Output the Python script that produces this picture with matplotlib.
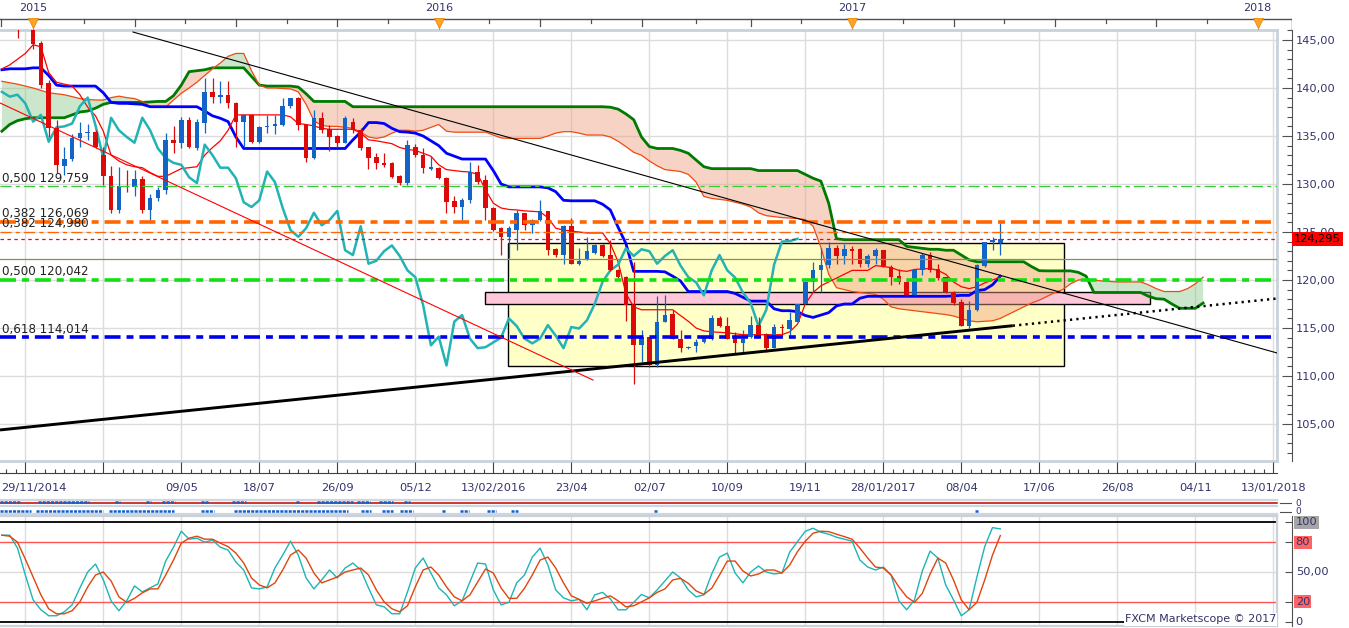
import datetime as dt
import numpy as np
import matplotlib
matplotlib.use("Agg")
import matplotlib.pyplot as plt
from matplotlib.patches import Rectangle
from matplotlib.transforms import blended_transform_factory

plt.rcParams['font.family'] = ['DejaVu Sans']
plt.rcParams['lines.scale_dashes'] = False

# ------------------------------------------------------------------ data
BASE_DATE = dt.date(2014, 11, 29)      # weekly bar index 0
FIRST_BAR = 2                          # first candle index in the lists below

opens = [147.5, 146.8, 147.2, 144.7, 140.5, 135.8, 131.9, 132.6,            # 2-9
         134.8, 135.3, 135.4, 133.0, 130.8, 127.3, 129.8, 129.7, 130.5, 127.3,  # 10-19
         128.5, 129.4, 134.6, 134.3, 136.7, 133.8, 136.4, 139.6, 139.1, 139.3,  # 20-29
         138.4, 136.5, 137.2, 134.4, 135.9, 136.0, 136.1, 138.1, 139.0, 136.1,  # 30-39
         132.7, 136.9, 135.7, 135.0, 134.3, 136.5, 135.6, 133.9, 132.8, 132.2,  # 40-49
         132.2, 130.8, 130.1, 133.9, 133.0, 131.6, 131.7, 130.6, 128.2, 127.6,  # 50-59
         128.3, 131.3, 130.4, 127.5, 125.4, 124.5, 125.2, 127.0, 125.7, 126.2,  # 60-69
         127.2, 123.2, 122.6, 125.6, 121.7, 122.2, 122.85, 123.6, 122.6, 121.0, # 70-79
         120.3, 117.4, 113.2, 114.1, 111.1, 115.66, 116.45, 113.9, 112.9, 113.1,# 80-89
         113.5, 113.9, 116.0, 115.2, 114.1, 113.4, 114.1, 115.3, 114.4, 112.9,  # 90-99
         115.05, 114.9, 115.66, 117.5, 119.8, 121.0, 121.6, 123.3, 122.5, 123.2,# 100-109
         123.2, 121.7, 122.5, 123.1, 121.4, 120.45, 119.75, 118.4, 121.0, 122.6,# 110-119
         121.1, 120.3, 118.7, 117.75, 115.2, 116.9, 121.5, 124.0, 123.9]        # 120-128
highs = [148.5, 147.6, 147.5, 144.9, 140.8, 136.7, 133.9, 135.2,
         136.5, 136.3, 135.6, 133.9, 131.9, 131.8, 131.5, 131.5, 130.8, 129.0,
         129.7, 135.3, 136.0, 137.0, 137.0, 136.8, 141.0, 141.0, 140.7, 140.7,
         138.5, 137.3, 137.3, 136.0, 137.2, 137.2, 139.0, 139.0, 139.1, 136.3,
         137.7, 137.5, 136.1, 135.1, 137.1, 136.9, 135.8, 133.9, 133.2, 133.2,
         132.3, 130.9, 134.6, 134.2, 133.7, 132.9, 131.8, 130.7, 128.7, 128.5,
         132.3, 132.0, 130.9, 127.6, 125.5, 125.6, 127.3, 127.0, 126.4, 128.3,
         127.2, 123.3, 125.7, 126.5, 123.3, 124.5, 123.7, 123.7, 124.2, 121.1,
         120.4, 121.9, 114.8, 114.1, 118.3, 118.4, 116.9, 114.8, 113.1, 113.9,
         114.1, 116.35, 116.2, 116.1, 114.6, 114.8, 116.2, 116.1, 114.5, 115.4,
         115.4, 116.7, 117.5, 119.9, 121.9, 123.3, 124.0, 123.65, 123.8, 123.5,
         123.3, 122.7, 123.3, 123.1, 121.6, 121.1, 120.2, 121.1, 122.8, 122.9,
         121.7, 120.3, 118.9, 118.0, 117.85, 121.7, 124.0, 124.5, 125.9]
lows = [145.2, 146.3, 144.1, 140.0, 134.9, 131.1, 130.9, 132.4,
        133.9, 134.6, 133.7, 129.9, 127.0, 127.0, 129.2, 128.8, 127.0, 126.2,
        128.2, 129.0, 133.2, 133.8, 133.7, 133.5, 135.3, 138.4, 138.4, 137.9,
        133.9, 133.9, 134.3, 134.3, 135.3, 135.2, 136.0, 137.9, 135.6, 132.3,
        132.6, 135.3, 133.4, 133.9, 134.3, 135.3, 133.5, 131.6, 131.6, 131.8,
        130.6, 129.9, 129.9, 132.8, 131.1, 131.5, 130.5, 127.0, 127.0, 126.3,
        128.0, 130.0, 126.3, 125.1, 122.6, 122.3, 123.1, 125.2, 124.9, 126.1,
        122.6, 122.4, 121.7, 121.7, 121.6, 122.1, 122.7, 122.4, 120.9, 120.2,
        115.7, 109.2, 111.5, 110.9, 110.9, 115.6, 113.9, 112.5, 112.8, 112.5,
        113.4, 113.75, 115.1, 113.9, 112.4, 112.5, 114.0, 114.1, 112.5, 112.9,
        114.2, 114.2, 115.6, 117.5, 118.7, 118.8, 121.2, 121.7, 121.7, 121.7,
        121.4, 121.4, 121.7, 121.4, 119.5, 119.6, 118.4, 118.4, 120.5, 120.8,
        120.0, 118.6, 117.4, 115.2, 115.0, 116.8, 121.4, 123.1, 122.6]
closes = [146.8, 147.2, 144.6, 140.3, 135.8, 132.0, 132.6, 134.8,
          135.3, 135.4, 133.9, 130.8, 127.3, 129.8, 129.7, 130.5, 127.3, 128.5,
          129.4, 134.6, 134.3, 136.7, 133.9, 136.5, 139.6, 139.1, 139.3, 138.4,
          136.5, 137.2, 134.4, 135.9, 136.0, 136.3, 138.1, 139.0, 136.1, 132.7,
          136.9, 135.6, 134.9, 134.3, 136.9, 135.6, 133.7, 132.7, 132.2, 132.0,
          130.7, 130.1, 134.1, 133.0, 131.7, 131.7, 130.6, 128.1, 127.6, 128.3,
          131.3, 130.2, 127.5, 125.2, 124.5, 125.4, 127.0, 125.7, 126.25, 127.2,
          123.1, 122.6, 125.6, 121.7, 122.0, 123.0, 123.6, 122.5, 121.0, 120.3,
          117.4, 113.2, 114.1, 111.1, 115.66, 116.35, 113.9, 112.9, 113.0, 113.5,
          114.0, 116.0, 115.2, 113.9, 113.4, 113.9, 115.3, 114.2, 112.9, 115.1,
          114.95, 115.8, 117.5, 119.8, 121.0, 121.6, 123.3, 122.5, 123.2, 123.0,
          121.7, 122.5, 123.1, 121.5, 120.3, 119.75, 118.4, 121.0, 122.6, 121.0,
          120.25, 118.7, 117.6, 115.2, 116.9, 121.6, 124.0, 124.05, 124.295]

# Ichimoku lines, one value per weekly bar starting at bar 0
tenkan = [142.0, 142.4, 143.0, 143.6, 144.5, 144.3, 141.6, 140.6, 140.4, 140.2,
          139.3, 138.0, 137.1, 135.5, 133.0, 132.4, 132.0, 131.8, 131.7, 131.2,
          130.8, 130.8, 131.2, 131.6, 131.7, 131.8, 133.0, 133.8, 134.5, 135.6,
          137.2, 137.2, 137.2, 137.2, 137.2, 137.2, 137.2, 137.0, 136.3, 136.2,
          136.05, 135.8, 135.7, 135.7, 135.7, 135.7, 135.3, 134.6, 134.5, 134.35,
          134.2, 133.8, 133.6, 133.5, 133.2, 132.9, 132.0, 131.5, 131.4, 131.3,
          131.25, 131.0, 129.4, 128.0, 127.5, 127.35, 127.3, 127.2, 127.15, 127.1,
          126.5, 125.4, 125.2, 125.1, 125.0, 124.9, 124.9, 124.9, 123.8, 121.9,
          118.6, 117.2, 116.9, 116.9, 116.9, 116.9, 116.9, 116.3, 115.7, 115.0,
          114.7, 114.6, 114.55, 114.5, 114.4, 114.3, 114.3, 114.3, 114.3, 114.3,
          114.3, 114.6, 115.4, 117.5, 118.7, 119.4, 119.8, 120.2, 120.6, 121.0,
          121.0, 121.0, 121.5, 121.4, 121.3, 121.0, 120.9, 121.1, 121.15, 121.2,
          121.0, 120.6, 119.8, 119.3, 119.1, 119.3, 119.7, 120.0, 120.3]
kijun = [141.9, 142.0, 142.0, 142.0, 142.1, 142.1, 141.3, 140.3, 140.2, 140.2,
         140.2, 140.2, 140.2, 139.5, 138.5, 138.4, 138.4, 138.35, 138.3, 138.05,
         138.05, 138.05, 138.05, 138.05, 138.05, 138.05, 137.6, 137.1, 136.85, 136.5,
         134.9, 133.7, 133.7, 133.7, 133.7, 133.7, 133.7, 133.7, 133.7, 133.7,
         133.7, 133.7, 133.7, 133.7, 133.7, 134.6, 135.4, 136.4, 136.4, 136.3,
         135.8, 135.45, 135.4, 135.3, 135.0, 134.5, 134.0, 133.2, 132.9, 132.6,
         132.6, 132.6, 132.6, 131.4, 130.0, 129.7, 129.7, 129.7, 129.7, 129.7,
         129.6, 129.2, 128.3, 128.25, 128.25, 128.25, 128.25, 127.9, 127.3, 125.5,
         123.8, 120.9, 120.9, 120.9, 120.9, 120.85, 120.4, 119.9, 118.8, 118.8,
         118.8, 118.8, 118.8, 118.8, 118.6, 118.2, 117.8, 117.8, 117.8, 117.0,
         116.8, 116.8, 116.7, 116.3, 116.1, 116.35, 116.6, 117.3, 117.5, 117.5,
         118.1, 118.3, 118.3, 118.3, 118.3, 118.3, 118.3, 118.3, 118.3, 118.3,
         118.3, 118.3, 118.35, 118.4, 118.4, 118.9, 119.0, 119.5, 120.4]
senkou_a = [140.7, 140.55, 140.4, 140.2, 140.0, 139.75, 139.5, 139.4, 139.3, 139.1,
            138.9, 138.8, 138.75, 138.75, 139.0, 139.15, 139.0, 138.9, 138.6, 138.05,
            138.0, 138.0, 138.75, 139.45, 140.0, 140.6, 141.3, 142.0, 142.6, 143.3,
            143.6, 143.6, 141.8, 140.3, 140.0, 140.0, 139.95, 139.9, 139.6, 138.3,
            136.6, 136.1, 136.0, 136.0, 135.9, 135.8, 135.4, 134.9, 134.75, 134.9,
            135.3, 135.6, 135.6, 135.5, 135.6, 135.9, 136.2, 135.5, 135.4, 135.4,
            135.4, 135.4, 135.4, 135.1, 134.8, 134.75, 134.75, 134.75, 134.75, 134.75,
            135.0, 135.3, 135.45, 135.45, 135.3, 135.1, 135.1, 135.1, 134.9, 134.45,
            133.9, 133.3, 133.0, 132.4, 131.9, 131.5, 131.4, 131.3, 131.0, 130.2,
            128.7, 128.5, 128.4, 128.3, 128.1, 127.9, 127.6, 127.0, 126.7, 126.6,
            126.5, 126.45, 126.4, 126.3, 125.6, 123.4, 120.6, 119.2, 119.0, 118.8,
            118.7, 118.6, 118.5, 118.0, 117.2, 117.0, 116.9, 116.8, 116.7, 116.6,
            116.5, 116.4, 116.25, 116.0, 115.75, 115.65, 115.7, 115.75, 116.0, 116.4,
            116.8, 117.2, 117.6, 117.9, 118.3, 118.7, 119.0, 119.6, 120.0, 120.05,
            120.0, 119.9, 119.85, 119.8, 119.8, 119.8, 119.8, 119.5, 119.1, 118.8,
            118.8, 118.8, 119.1, 119.6, 120.3]
senkou_b = [135.5, 136.2, 136.6, 136.8, 136.9, 136.9, 136.9, 136.9, 136.9, 137.2,
            137.5, 137.6, 137.9, 138.3, 138.5, 138.5, 138.5, 138.5, 138.5, 138.55,
            138.6, 138.6, 139.2, 140.3, 141.7, 141.8, 141.9, 142.1, 142.1, 142.1,
            142.1, 142.1, 141.2, 140.3, 140.2, 140.2, 140.2, 140.2, 140.1, 139.4,
            138.6, 138.6, 138.6, 138.6, 138.6, 138.05, 138.05, 138.05, 138.05, 138.05,
            138.05, 138.05, 138.05, 138.05, 138.05, 138.05, 138.05, 138.05, 138.05, 138.05,
            138.05, 138.05, 138.05, 138.05, 138.05, 138.05, 138.05, 138.05, 138.05, 138.05,
            138.05, 138.05, 138.05, 138.05, 138.05, 138.05, 138.05, 138.05, 138.0, 137.8,
            137.3, 136.7, 134.9, 133.9, 133.7, 133.7, 133.7, 133.5, 133.2, 132.5,
            131.8, 131.6, 131.6, 131.6, 131.6, 131.6, 131.6, 131.4, 131.4, 131.4,
            131.4, 131.4, 131.4, 131.0, 130.6, 130.3, 128.0, 124.3, 124.2, 124.2,
            124.2, 124.2, 124.2, 124.2, 124.2, 124.2, 123.5, 123.4, 123.3, 123.2,
            123.2, 123.1, 123.1, 122.6, 122.1, 121.9, 121.9, 121.9, 121.9, 121.9,
            121.9, 121.9, 121.4, 120.97, 120.95, 120.95, 120.95, 120.95, 120.8, 120.4,
            118.7, 118.7, 118.7, 118.7, 118.7, 118.7, 118.7, 118.3, 118.05, 118.0,
            117.5, 117.05, 117.05, 117.05, 117.6]
CHIKOU_SHIFT = 26

# stochastic oscillator, one value per bar from bar 0
stoch_k = [87, 87, 74, 47, 22, 12, 6, 6, 10, 17,
           34, 50, 58, 42, 21, 11, 21, 36, 30, 34,
           38, 61, 75, 91, 83, 84, 80, 82, 75, 72,
           60, 52, 34, 33, 35, 54, 67, 81, 67, 44,
           33, 42, 52, 44, 54, 59, 52, 34, 17, 15,
           8, 8, 30, 54, 64, 49, 34, 27, 16, 21,
           40, 59, 58, 32, 17, 19.5, 39, 47, 65, 74,
           57, 32, 24, 21, 22.5, 12, 27, 29.5, 23, 12,
           12, 19.5, 27.5, 24, 32, 41, 50, 44, 32, 25,
           27, 48, 65, 69, 49, 39, 50, 56, 50, 48,
           49, 70, 80.5, 91, 94, 90, 88, 85, 83, 81,
           62, 55, 52, 55, 47, 21, 12, 22, 51, 71,
           64, 37, 22, 6, 12, 45, 75.5, 94.6, 93.3]
stoch_d = [87, 86, 80, 63, 45, 27, 13, 8, 8, 11,
           20, 35, 47, 50, 41, 25, 19.5, 23.5, 29, 33,
           33, 47, 62, 79, 84, 86, 83, 83, 79, 75.5,
           69, 59, 44, 37, 34, 39, 52, 67, 72, 64,
           49, 39, 42, 45, 50, 52, 54, 47, 32, 20,
           13, 10, 16, 35, 52, 55, 47, 35, 25, 21,
           27, 40, 53, 49, 34, 23.5, 23.5, 33.6, 47, 62,
           65, 54, 39, 26, 22.5, 18.5, 21, 23.5, 26, 21,
           15, 16, 20, 24, 29.5, 33, 42, 43.6, 38.6, 31,
           27.5, 33.6, 47, 61, 61, 51, 46, 48, 52, 52,
           49, 57, 70.5, 81, 89, 91, 90.6, 88, 85.6, 83,
           74, 64, 55, 54, 47, 35, 25, 19.5, 28.5, 48,
           64, 59, 42, 22, 12, 19.5, 42, 67, 86.6]
stoch_levels = [0, 20, 50, 80, 100]

# fibonacci / horizontal levels
fib_ratio = ['0,500', '0,382', '0,382', '0,500', '0,618']
fib_level = [129.759, 126.069, 124.980, 120.042, 114.014]
last_price = 124.295
mid_level = 122.15

# drawn objects (bar index, price)
down_t, down_p = [16.81, 163.47], [145.83, 112.40]
up_t, up_p = [-0.24, 129.6], [104.38, 115.24]
upx_t, upx_p = [129.6, 163.47], [115.24, 118.07]
red_t, red_p = [-0.24, 75.78], [138.44, 109.58]
yellow_box = (64.88, 136.17, 111.04, 123.85)
pink_box = (61.94, 147.19, 117.47, 118.72)

# signal strips (bar ranges)
strip1 = [(-0.2, 2.3), (4.6, 11.2), (14.5, 15.1), (18.5, 19.1), (20.5, 22.2), (25.5, 26.4),
          (29.5, 31.3), (37.7, 38.2), (40.4, 45.0), (45.5, 47.2), (48.4, 50.1), (51.6, 52.3)]
strip2 = [(-0.2, 3.7), (4.4, 13.0), (13.7, 22.1), (25.5, 27.2), (29.8, 44.4), (46.0, 47.3),
          (48.7, 50.1), (51.0, 52.7), (56.4, 57.0), (58.7, 59.9), (62.2, 63.3), (65.3, 66.2),
          (83.6, 84.1), (124.8, 125.3)]

# time axis labels
label_weeks = [3, 13, 23, 33, 43, 53, 63, 73, 83, 93, 103, 113, 123, 133, 143, 153, 163]
label_text = ['', '', '09/05', '18/07', '26/09', '05/12', '13/02/2016', '23/04', '02/07',
              '10/09', '19/11', '28/01/2017', '08/04', '17/06', '26/08', '04/11', '13/01/2018']
first_label = '29/11/2014'
years = [2015, 2016, 2017, 2018]

# ------------------------------------------------------------------ layout
W, H = 1349, 628
fig = plt.figure(figsize=(W / 100, H / 100), dpi=100)
PX0, PXW = 1.9, 7.8


def wk(px):
    return (px - PX0) / PXW


def add_ax(x0, y0, x1, y1):
    a = fig.add_axes([x0 / W, 1 - y1 / H, (x1 - x0) / W, (y1 - y0) / H])
    return a


XL = (wk(0), wk(1277))
TXT = '#33336A'
GRID = '#DCDCDC'
FRAME = '#C9D1DA'
BLUE_C = '#1464C8'
RED_C = '#DD0A0A'

# ---------------- main price panel
ax = add_ax(0, 30, 1277, 461)
ax.set_xlim(*XL)
ax.set_ylim(101.146, 146.042)
ax.set_xticks([])
ax.set_yticks([])
for s in ax.spines.values():
    s.set_color(FRAME)
    s.set_linewidth(2)
ax.spines['left'].set_visible(False)
for w in label_weeks:
    ax.axvline(w, color=GRID, lw=1, zorder=0)
for p in range(105, 146, 5):
    ax.axhline(p, color=GRID, lw=1, zorder=0)

# boxes
ax.add_patch(Rectangle((yellow_box[0], yellow_box[2]), yellow_box[1] - yellow_box[0],
                       yellow_box[3] - yellow_box[2], fc='#FFFFC8', ec='black', lw=1, zorder=1))
ax.add_patch(Rectangle((pink_box[0], pink_box[2]), pink_box[1] - pink_box[0],
                       pink_box[3] - pink_box[2], fc='#FFC8DA', ec='black', lw=1, zorder=1.2))

# cloud
sa = np.array(senkou_a)
sb = np.array(senkou_b)
sx = np.arange(len(sa))
ax.fill_between(sx, sa, sb, where=sa >= sb, interpolate=True, color='#8CC88C', alpha=0.45, lw=0, zorder=2)
ax.fill_between(sx, sa, sb, where=sa < sb, interpolate=True, color='#EE9F80', alpha=0.45, lw=0, zorder=2)
ax.plot(sx, sb, color='#007A00', lw=2.0, zorder=3)
ax.plot(sx, sa, color='#F04A10', lw=0.9, zorder=3)

# kijun / tenkan
ax.plot(np.arange(len(kijun)), kijun, color='#0000FF', lw=2.0, zorder=3.2)
ax.plot(np.arange(len(tenkan)), tenkan, color='#FF0000', lw=0.9, zorder=3.3)

# candles
bars = np.arange(FIRST_BAR, FIRST_BAR + len(opens))
o, h, l, c = (np.array(v) for v in (opens, highs, lows, closes))
cols = np.where(c >= o, BLUE_C, RED_C)
ax.vlines(bars, l, h, colors=cols, lw=0.9, zorder=4)
ax.bar(bars, np.maximum(np.abs(c - o), 0.12), bottom=np.minimum(o, c), width=0.6,
       color=cols, lw=0, zorder=4.2)

# chikou (closes shifted back)
m = bars >= CHIKOU_SHIFT
ax.plot(bars[m] - CHIKOU_SHIFT, c[m], color='#22B3B5', lw=1.8, zorder=3.5)

# horizontal levels
thick = (0, (11.5, 4.3, 5, 4.3))
styles = [dict(color='#33CC33', lw=0.9, ls=(0, (8, 3, 3, 3))),
          dict(color='#FF6600', lw=2.6, ls=thick),
          dict(color='#FF6600', lw=0.9, ls=(0, (8, 3, 3, 3))),
          dict(color='#11E011', lw=2.6, ls=thick),
          dict(color='#0000EE', lw=2.6, ls=thick)]
for r, lv, st in zip(fib_ratio, fib_level, styles):
    ax.plot(XL, [lv, lv], zorder=5, **st)
    ax.annotate(f"{r} {lv:.3f}".replace('.', ','), xy=(XL[0], lv), xytext=(1.5, 1.3),
                textcoords='offset points', ha='left', va='bottom', fontsize=8.6,
                color='#222222', zorder=6)
ax.plot(XL, [last_price, last_price], color='#FF0000', lw=0.9, ls=(0, (2.5, 2.5)), zorder=5)
ax.plot(XL, [mid_level, mid_level], color='#8A8A66', lw=0.9, zorder=5)

# trend lines
ax.plot(down_t, down_p, color='black', lw=0.8, zorder=5)
ax.plot(up_t, up_p, color='black', lw=2.1, zorder=5, solid_capstyle='butt')
ax.plot(upx_t, upx_p, color='black', lw=1.8, ls=(0, (1.6, 3.0)), zorder=5)
ax.plot(red_t, red_p, color='#FF0000', lw=0.8, zorder=5)

# ---------------- right price axis
axr = add_ax(1277, 30, 1292, 461)
axr.set_ylim(ax.get_ylim())
axr.set_xlim(0, 1)
axr.patch.set_alpha(0)
for s in ('left', 'top', 'bottom'):
    axr.spines[s].set_visible(False)
axr.spines['right'].set_color('#505050')
axr.xaxis.set_visible(False)
axr.yaxis.tick_right()
maj = np.arange(105, 146, 5)
axr.set_yticks(maj)
axr.set_yticks(np.arange(102, 147, 1), minor=True)
axr.set_yticklabels([f"{v:.2f}".replace('.', ',') for v in maj])
axr.tick_params(axis='y', which='major', direction='in', length=7, width=0.8, colors='#505050',
                labelcolor=TXT, labelsize=8.2, pad=3)
axr.tick_params(axis='y', which='minor', direction='in', length=3.5, width=0.8, colors='#505050')
axr.annotate(f"{last_price:.3f}".replace('.', ','), xy=(1, last_price),
             xycoords=blended_transform_factory(axr.transAxes, axr.transData),
             xytext=(1.6, 0), textcoords='offset points', ha='left', va='center',
             fontsize=8.2, color='black', zorder=10, annotation_clip=False,
             bbox=dict(boxstyle='square,pad=0.18', fc='#FF0000', ec='none'))

# ---------------- top (year) band
axt = add_ax(0, 0, 1292, 30)
axt.set_xlim(wk(0), wk(1292))
axt.set_ylim(30, 0)
axt.axis('off')
axt.plot([wk(0), wk(1292)], [19.3, 19.3], color='#505050', lw=1)
axt.plot([wk(1292), wk(1292)], [19.3, 30], color='#505050', lw=1)
qdates = [dt.date(y, mth, 1) for y in (2015, 2016, 2017) for mth in (1, 4, 7, 10)] + [dt.date(2018, 1, 1)]
qbars = [(d - BASE_DATE).days // 7 for d in qdates]
for qb in qbars:
    axt.plot([qb, qb], [19.3, 25.5], color='#505050', lw=0.9)
for a_, b_ in zip(qbars[:-1], qbars[1:]):
    axt.plot([(a_ + b_) / 2] * 2, [19.3, 23], color='#505050', lw=0.9)
axt.plot([wk(0.5)] * 2, [19.3, 25.5], color='#505050', lw=0.9)
for y in years:
    yb = (dt.date(y, 1, 1) - BASE_DATE).days // 7
    axt.text(yb, 8, str(y), ha='center', va='center', fontsize=8, color=TXT)
    axt.plot([yb, yb], [19.3, 31], color='#A0A0A0', lw=0.8)
    axt.plot(yb, 22.8, marker='v', ms=7.5, color='#FFA424', mec='#E88A10', mew=0.6)

# ---------------- time axis band
axx = add_ax(0, 461, 1277, 472.5)
axx.set_xlim(*XL)
axx.set_ylim(0, 1)
axx.patch.set_alpha(0)
for s in ('left', 'top', 'right'):
    axx.spines[s].set_visible(False)
axx.spines['bottom'].set_color('#404040')
axx.yaxis.set_visible(False)
axx.set_xticks(label_weeks)
axx.set_xticklabels(label_text)
minor_w = [w0 + k * 1.25 for w0 in label_weeks for k in range(1, 8)] + [0.5, 1.75]
axx.set_xticks([v for v in minor_w if v < XL[1]], minor=True)
axx.tick_params(axis='x', which='major', direction='in', length=7.8, width=0.8, colors='#404040',
                labelcolor=TXT, labelsize=8.2, pad=7.5)
axx.tick_params(axis='x', which='minor', direction='in', length=3, width=0.8, colors='#404040')
for lab in axx.get_xticklabels():
    lab.set_clip_on(False)
axx.annotate(first_label, xy=(XL[0], 0), xytext=(0.5, -7.5), textcoords='offset points',
             ha='left', va='top', fontsize=8.2, color=TXT)

# ---------------- signal strips
axs = add_ax(0, 497, 1292, 515)
axs.set_xlim(wk(0), wk(1292))
axs.set_ylim(515, 497)
axs.axis('off')
for yy in (499.5, 506.0, 513.5):
    axs.plot([wk(0), XL[1]], [yy, yy], color='#D0D6DC', lw=1.6)
axs.plot([wk(0), XL[1]], [503.3, 503.3], color='#C00000', lw=1.1)
for a_, b_ in strip1:
    axs.plot([a_, b_], [502.0, 502.0], color='#1060D0', lw=1.8, ls=(0, (2.2, 0.8)))
for a_, b_ in strip2:
    axs.plot([a_, b_], [510.8, 510.8], color='#1060D0', lw=1.8, ls=(0, (2.2, 0.8)))
for yy in (503.3, 512):
    axs.plot([wk(1280), wk(1292)], [yy, yy], color='#505050', lw=0.8)
    axs.text(wk(1295), yy, '0', fontsize=6.5, color=TXT, va='center', ha='left', clip_on=False)

# ---------------- stochastic panel
axo = add_ax(0, 516, 1277, 626)
axo.set_xlim(*XL)
axo.set_ylim(-4.3, 106.3)
axo.set_xticks([])
axo.set_yticks([])
for s in axo.spines.values():
    s.set_color(FRAME)
    s.set_linewidth(1.6)
axo.spines['left'].set_visible(False)
for w in label_weeks:
    axo.axvline(w, color=GRID, lw=1, zorder=0)
axo.axhline(50, color=GRID, lw=1, zorder=0)
axo.axhline(80, color='#FF5555', lw=1, zorder=1)
axo.axhline(20, color='#FF5555', lw=1, zorder=1)
axo.axhline(100, color='black', lw=1.3, zorder=1)
axo.axhline(0, color='black', lw=1.3, zorder=1)
axo.plot(np.arange(len(stoch_k)), stoch_k, color='#1EB4B4', lw=1.0, zorder=3)
axo.plot(np.arange(len(stoch_d)), stoch_d, color='#E0450E', lw=1.0, zorder=3)

axor = add_ax(1277, 516, 1292, 626)
axor.set_ylim(axo.get_ylim())
axor.set_xlim(0, 1)
axor.patch.set_alpha(0)
for s in ('left', 'top', 'bottom'):
    axor.spines[s].set_visible(False)
axor.spines['right'].set_color('#505050')
axor.xaxis.set_visible(False)
axor.yaxis.tick_right()
axor.set_yticks(stoch_levels)
axor.set_yticklabels([])
axor.tick_params(axis='y', direction='in', length=5, width=0.8, colors='#505050')
bt = blended_transform_factory(axor.transAxes, axor.transData)
lab_bg = {0: None, 20: '#FF6464', 50: None, 80: '#FF6464', 100: '#A6A6A6'}
for v in stoch_levels:
    s_ = '50,00' if v == 50 else str(v)
    kw = dict(fontsize=8.2, color=TXT, ha='left', va='center', transform=bt, clip_on=False)
    if lab_bg[v]:
        kw['bbox'] = dict(boxstyle='square,pad=0.12', fc=lab_bg[v], ec='none')
    axor.text(1.25, v, s_, **kw)

fig.text(1276 / W, 1 - 619.5 / H, 'FXCM Marketscope © 2017', ha='right', va='center',
         fontsize=8, color=TXT, bbox=dict(boxstyle='square,pad=0.1', fc='white', ec='none'))

fig.savefig('out.png', dpi=100)
